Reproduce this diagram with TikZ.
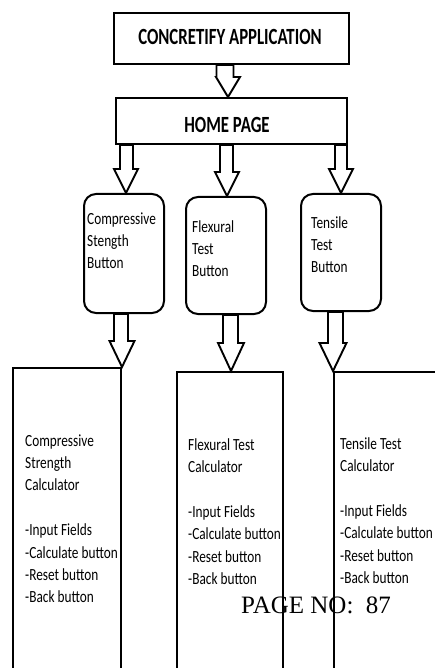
\documentclass[tikz,border=0pt]{standalone}
\usepackage{fontspec}
\setmainfont{Carlito}
\newfontfamily\pagefont{Liberation Serif}
\usepackage{graphicx}
\usetikzlibrary{calc}

% multi-line left-aligned text, stretched vertically
\newcommand\stretched[2]{\scalebox{1}[#1]{\begin{tabular}[t]{@{}l@{}}#2\end{tabular}}}

\tikzset{
  shaft half/.store in=\shafthalf, shaft half=6.5,
  head half/.store in=\headhalf, head half=12,
  head len/.store in=\headlen, head len=24,
  box/.style={draw, line width=2pt, rectangle, inner sep=0pt, anchor=north west},
  btn/.style={box, rounded corners=12pt},
  body/.style={inner sep=0pt, anchor=base west, font=\fontsize{13.3}{17.5}\selectfont},
  title/.style={inner sep=0pt, font=\fontsize{16.8}{20}\selectfont\bfseries},
  % hollow block arrow: shaft centred on the start point, head centred on the tip
  blockarr/.style={draw, fill=white, line width=1.9pt, line join=miter,
    to path={let \p1=(\tikztostart), \p2=(\tikztotarget) in
      (\x1-\shafthalf pt,\y1) -- (\x1-\shafthalf pt,\y2+\headlen pt)
      -- (\x2-\headhalf pt,\y2+\headlen pt) -- (\x2,\y2)
      -- (\x2+\headhalf pt,\y2+\headlen pt) -- (\x1+\shafthalf pt,\y2+\headlen pt)
      -- (\x1+\shafthalf pt,\y1) -- cycle}}
}

\begin{document}
\begin{tikzpicture}[x=1pt, y=-1pt]
\useasboundingbox (0,0) rectangle (435,668);
\fill[white] (0,0) rectangle (435,668);
\clip (0,0) rectangle (435,668);

% top level boxes
\node[box, minimum width=235pt, minimum height=51pt] (app) at (113,12) {};
\node[box, minimum width=231pt, minimum height=46pt] (home) at (115,97) {};
\node[title] (apptext) at (230,37) {\scalebox{1}[1.38]{CONCRETIFY APPLICATION}};
\node[title] (hometext) at (227,125) {\scalebox{1}[1.38]{HOME PAGE}};

% buttons
\node[btn, minimum width=80pt, minimum height=119pt] (bcomp) at (83,193) {};
\node[btn, minimum width=80pt, minimum height=117pt] (bflex) at (185,196) {};
\node[btn, minimum width=80pt, minimum height=117pt] (bten) at (300,193) {};
\node[body] (tcomp) at (87,224) {\stretched{1.28}{Compressive\\Stength\\Button}};
\node[body] (tflex) at (192,232) {\stretched{1.28}{Flexural\\Test\\Button}};
\node[body] (tten) at (311,228) {\stretched{1.28}{Tensile\\Test\\Button}};

% calculator screens (run past the lower edge)
\node[box, minimum width=108pt, minimum height=400pt] (ccomp) at (12,367) {};
\node[box, minimum width=106pt, minimum height=400pt] (cflex) at (176,371) {};
\node[box, minimum width=120pt, minimum height=400pt] (cten) at (333,371) {};
\node[body] (tccomp) at (25,446) {\stretched{1.28}{Compressive\\Strength\\Calculator\\ \\-Input Fields\\-Calculate button\\-Reset button\\-Back button}};
\node[body] (tcflex) at (188,450) {\stretched{1.28}{Flexural Test\\Calculator\\ \\-Input Fields\\-Calculate button\\-Reset button\\-Back button}};
\node[body] (tcten) at (340,449) {\stretched{1.28}{Tensile Test\\Calculator\\ \\-Input Fields\\-Calculate button\\-Reset button\\-Back button}};

% arrows
\draw[blockarr, shaft half=8.5, head len=20] ($(app.south)+(-6.5,0)$) to ($(home.north)+(-3.5,0)$);
\draw[blockarr] ($(home.south -| bcomp.north)+(2.5,0)$) to ($(bcomp.north)+(2,0)$);
\draw[blockarr] ($(home.south -| bflex.north)+(0.5,0)$) to ($(bflex.north)+(1,0)$);
\draw[blockarr, shaft half=6] (home.south -| bten.north) to (bten.north);
\draw[blockarr, shaft half=7, head half=12.5, head len=26] ($(bcomp.south)+(-3,0)$) to (ccomp.north east);
\draw[blockarr, shaft half=7.5, head half=13, head len=28] ($(bflex.south)+(4.5,0)$) to ($(cflex.north)+(1,0)$);
\draw[blockarr, shaft half=7.5, head half=13.5, head len=28] ($(bten.south)+(-5.5,0)$) to (cten.north west);

% page footer
\node[anchor=base west, inner sep=0pt, font=\pagefont\fontsize{25}{30}\selectfont] (pageno) at (241,613) {PAGE NO:\ \ 87};
\end{tikzpicture}
\end{document}
